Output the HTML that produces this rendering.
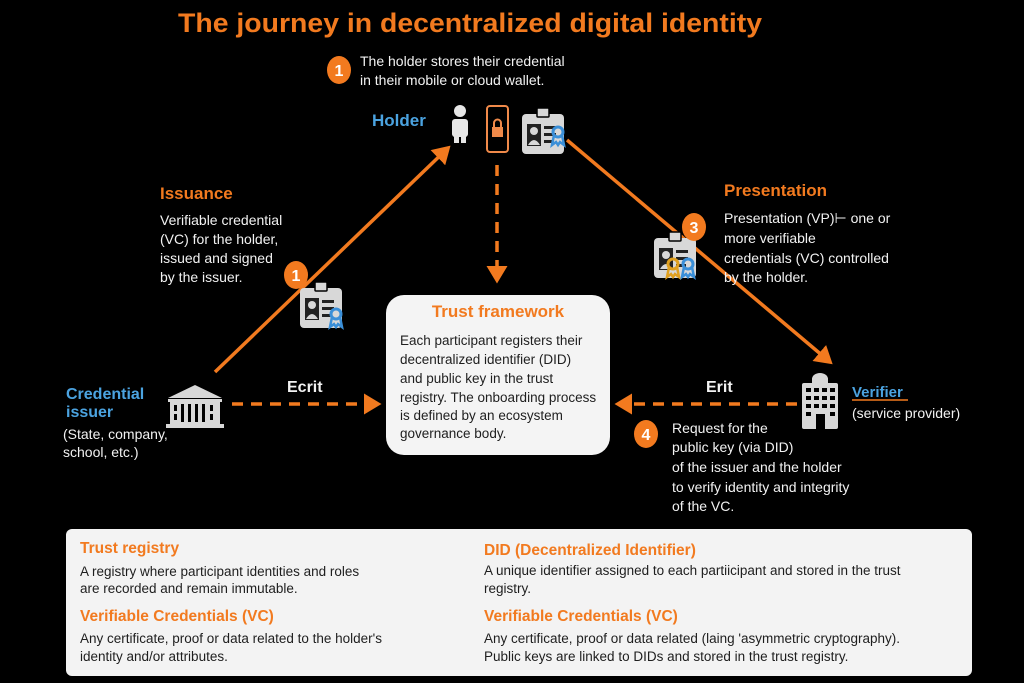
<!DOCTYPE html>
<html><head><meta charset="utf-8"><style>
html,body{margin:0;padding:0;background:#000;}
svg{display:block;font-family:"Liberation Sans",sans-serif;}
.w{fill:#f2f2f2;font-size:14px;}
.o{fill:#f27a1f;font-weight:bold;}
.b{fill:#4ba3e0;font-weight:bold;}
.d{fill:#1e1e1e;font-size:13.5px;}
</style></head><body>
<svg width="1024" height="683" viewBox="0 0 1024 683" xmlns="http://www.w3.org/2000/svg">
<defs>
<marker id="ah" markerWidth="6" markerHeight="6" refX="4" refY="3" orient="auto" markerUnits="strokeWidth"><path d="M0,0 L5,3 L0,6 Z" fill="#f27a1f"/></marker>
<g id="card"><rect x="0" y="6" width="42" height="40" rx="4" fill="#d8d8d8"/><rect x="15" y="0" width="12" height="9" rx="1" fill="#d8d8d8" stroke="#000" stroke-width="1.5"/><rect x="5" y="16" width="14" height="22" fill="#222"/><circle cx="12" cy="23" r="4" fill="#d8d8d8"/><path d="M6,37 Q12,27 18,37 Z" fill="#d8d8d8"/><rect x="22" y="18" width="12" height="3" fill="#222"/><rect x="22" y="25" width="12" height="3" fill="#222"/><rect x="22" y="32" width="10" height="3" fill="#222"/></g>
<g id="rib"><circle cx="0" cy="0" r="5" fill="none" stroke-width="3"/><path d="M-4,3 L-6,13 L-2,10 L0,13 L2,10 L6,13 L4,3" stroke-width="2.5" fill="none"/></g>
</defs>
<rect width="1024" height="683" fill="#000"/>
<text x="178" y="32" class="o" font-size="27" textLength="584" lengthAdjust="spacingAndGlyphs">The journey in decentralized digital identity</text>

<ellipse cx="339" cy="70" rx="12" ry="14" fill="#f27a1f"/><text x="339" y="76" text-anchor="middle" fill="#fff" font-weight="bold" font-size="16">1</text>
<text x="360" y="66" class="w" font-size="14.5">The holder stores their credential</text>
<text x="360" y="85" class="w" font-size="14.5">in their mobile or cloud wallet.</text>

<text x="372" y="126" class="b" font-size="17">Holder</text>
<circle cx="460" cy="111" r="6" fill="#e6e6e6"/><rect x="452" y="119" width="16" height="18" rx="3" fill="#e6e6e6"/><rect x="454" y="130" width="5" height="13" fill="#e6e6e6"/><rect x="461" y="130" width="5" height="13" fill="#e6e6e6"/>
<rect x="487" y="106" width="21" height="46" rx="3" fill="none" stroke="#f08a4a" stroke-width="2"/><rect x="492" y="127" width="11" height="10" fill="#f08a4a"/><path d="M494,127 v-4 a3.5,3.5 0 0 1 7,0 v4" fill="none" stroke="#f08a4a" stroke-width="2"/>
<use href="#card" x="522" y="108"/><g transform="translate(558,132)" stroke="#3a8fd8"><use href="#rib"/></g>

<line x1="215" y1="372" x2="448" y2="148" stroke="#f27a1f" stroke-width="3.5" marker-end="url(#ah)"/>
<line x1="497" y1="165" x2="497" y2="280" stroke="#f27a1f" stroke-width="3.5" stroke-dasharray="11 8" marker-end="url(#ah)"/>
<line x1="567" y1="140" x2="830" y2="362" stroke="#f27a1f" stroke-width="3.5" marker-end="url(#ah)"/>

<text x="160" y="199" class="o" font-size="17">Issuance</text>
<text x="160" y="225" class="w">Verifiable credential</text>
<text x="160" y="244" class="w">(VC) for the holder,</text>
<text x="160" y="263" class="w">issued and signed</text>
<text x="160" y="282" class="w">by the issuer.</text>
<ellipse cx="296" cy="275" rx="12" ry="14" fill="#f27a1f"/><text x="296" y="281" text-anchor="middle" fill="#fff" font-weight="bold" font-size="16">1</text>
<use href="#card" x="300" y="282"/><g transform="translate(336,314)" stroke="#3a8fd8"><use href="#rib"/></g>

<text x="724" y="196" class="o" font-size="17">Presentation</text>
<text x="724" y="223" class="w">Presentation (VP)⊢ one or</text>
<text x="724" y="243" class="w">more verifiable</text>
<text x="724" y="263" class="w">credentials (VC) controlled</text>
<text x="724" y="282" class="w">by the holder.</text>
<use href="#card" x="654" y="232"/>
<g transform="translate(673,264)" stroke="#e0a020"><use href="#rib"/></g><g transform="translate(688,264)" stroke="#3a8fd8"><use href="#rib"/></g>
<ellipse cx="694" cy="227" rx="12" ry="14" fill="#f27a1f"/><text x="694" y="233" text-anchor="middle" fill="#fff" font-weight="bold" font-size="16">3</text>

<rect x="386" y="295" width="224" height="160" rx="18" fill="#f4f4f4"/>
<text x="498" y="317" text-anchor="middle" class="o" font-size="17">Trust framework</text>
<text x="400" y="345" class="d">Each participant registers their</text>
<text x="400" y="364" class="d">decentralized identifier (DID)</text>
<text x="400" y="383" class="d">and public key in the trust</text>
<text x="400" y="402" class="d">registry. The onboarding process</text>
<text x="400" y="420" class="d">is defined by an ecosystem</text>
<text x="400" y="438" class="d">governance body.</text>

<text x="66" y="399" class="b" font-size="16">Credential</text>
<text x="66" y="417" class="b" font-size="16">issuer</text>
<text x="63" y="439" class="w">(State, company,</text>
<text x="63" y="457" class="w">school, etc.)</text>
<path d="M168,398 L195,385 L222,398 Z" fill="#d8d8d8"/><rect x="168" y="399" width="54" height="3" fill="#d8d8d8"/>
<rect x="170" y="402" width="50" height="22" fill="#d8d8d8"/><rect x="166" y="424" width="58" height="4" fill="#d8d8d8"/>
<g fill="#000"><rect x="174" y="405" width="3" height="6"/><rect x="174" y="414" width="3" height="6"/><rect x="181" y="404" width="3" height="18"/><rect x="188" y="404" width="3" height="18"/><rect x="195" y="404" width="3" height="18"/><rect x="202" y="404" width="3" height="18"/><rect x="210" y="405" width="3" height="6"/><rect x="210" y="414" width="3" height="6"/></g>

<text x="287" y="392" fill="#f2f2f2" font-weight="bold" font-size="16">Ecrit</text>
<line x1="232" y1="404" x2="378" y2="404" stroke="#f27a1f" stroke-width="3.5" stroke-dasharray="11 8" marker-end="url(#ah)"/>
<text x="706" y="392" fill="#f2f2f2" font-weight="bold" font-size="16">Erit</text>
<line x1="797" y1="404" x2="618" y2="404" stroke="#f27a1f" stroke-width="3.5" stroke-dasharray="11 8" marker-end="url(#ah)"/>

<rect x="802" y="383" width="36" height="46" rx="2" fill="#d8d8d8"/><path d="M812,383 v-4 a8,6 0 0 1 16,0 v4" fill="#d8d8d8"/>
<g fill="#000"><rect x="806" y="388" width="5" height="4"/><rect x="814" y="388" width="5" height="4"/><rect x="822" y="388" width="5" height="4"/><rect x="830" y="388" width="5" height="4"/><rect x="806" y="396" width="5" height="4"/><rect x="814" y="396" width="5" height="4"/><rect x="822" y="396" width="5" height="4"/><rect x="830" y="396" width="5" height="4"/><rect x="806" y="404" width="5" height="4"/><rect x="814" y="404" width="5" height="4"/><rect x="822" y="404" width="5" height="4"/><rect x="830" y="404" width="5" height="4"/><rect x="806" y="412" width="5" height="4"/><rect x="830" y="412" width="5" height="4"/><rect x="816" y="414" width="9" height="15"/></g>
<text x="852" y="397" class="b" font-size="15">Verifier</text>
<line x1="852" y1="400" x2="908" y2="400" stroke="#f27a1f" stroke-width="1.5"/>
<text x="852" y="418" class="w" font-size="15">(service provider)</text>

<ellipse cx="646" cy="434" rx="12" ry="14" fill="#f27a1f"/><text x="646" y="440" text-anchor="middle" fill="#fff" font-weight="bold" font-size="16">4</text>
<text x="672" y="433" class="w">Request for the</text>
<text x="672" y="452" class="w">public key (via DID)</text>
<text x="672" y="472" class="w">of the issuer and the holder</text>
<text x="672" y="492" class="w">to verify identity and integrity</text>
<text x="672" y="511" class="w">of the VC.</text>

<rect x="66" y="529" width="906" height="147" rx="6" fill="#f3f3f3"/>
<g>
<text x="80" y="553" class="o" font-size="15.5">Trust registry</text>
<text x="80" y="576" class="d" font-size="14">A registry where participant identities and roles</text>
<text x="80" y="593" class="d" font-size="14">are recorded and remain immutable.</text>
<text x="80" y="621" class="o" font-size="15.5">Verifiable Credentials (VC)</text>
<text x="80" y="643" class="d" font-size="14">Any certificate, proof or data related to the holder's</text>
<text x="80" y="661" class="d" font-size="14">identity and/or attributes.</text>
<text x="484" y="555" class="o" font-size="15.5">DID (Decentralized Identifier)</text>
<text x="484" y="575" class="d" font-size="14">A unique identifier assigned to each partiicipant and stored in the trust</text>
<text x="484" y="593" class="d" font-size="14">registry.</text>
<text x="484" y="621" class="o" font-size="15.5">Verifiable Credentials (VC)</text>
<text x="484" y="643" class="d" font-size="14">Any certificate, proof or data related (laing 'asymmetric cryptography).</text>
<text x="484" y="661" class="d" font-size="14">Public keys are linked to DIDs and stored in the trust registry.</text>
</g>
</svg>
</body></html>
